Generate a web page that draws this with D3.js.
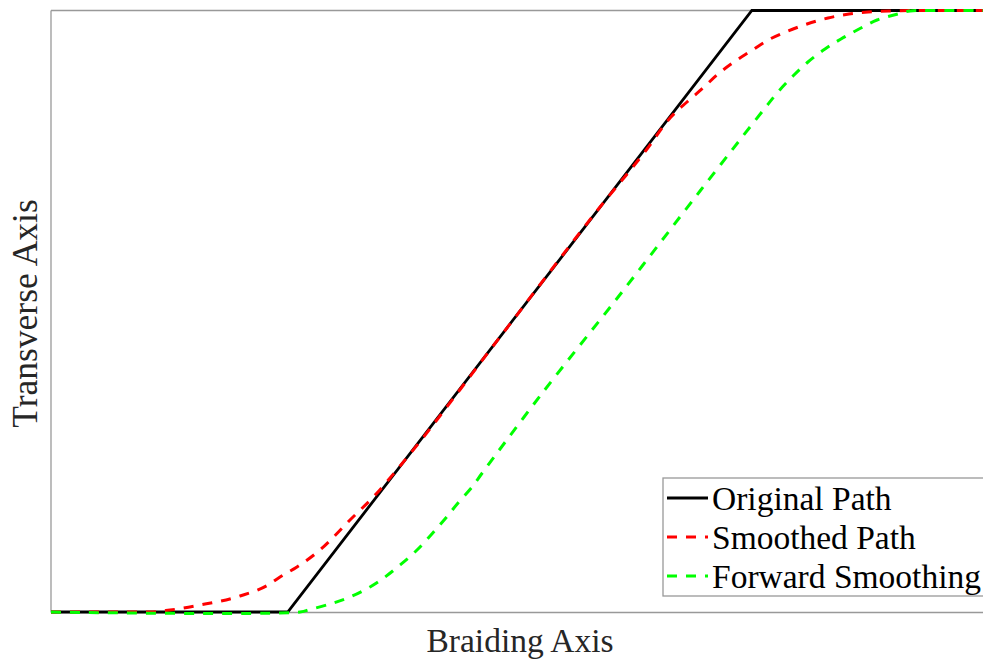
<!DOCTYPE html>
<html>
<head>
<meta charset="utf-8">
<script src="https://cdn.jsdelivr.net/npm/d3@7"></script>
<style>
  html, body { margin: 0; padding: 0; background: #fff; }
  svg { display: block; }
  text { font-family: "Liberation Serif", "Times New Roman", serif; }
</style>
</head>
<body>
<svg id="chart" width="983" height="661"></svg>
<script>
// ---- Data (x: braiding axis 0..100, y: transverse axis 0..1) ----
const seriesNames = ["Original Path", "Smoothed Path", "Forward Smoothing"];

const xOriginal = [0, 25.4, 75.2, 100];
const yOriginal = [0, 0, 1, 1];

const xSmoothed = [0, 10.62, 12.77, 15.99, 20.28, 23.28, 24.57, 26.39, 28.86, 32.08, 34.98, 37.45,
  48.18, 58.91, 63.95, 66.42, 68.24, 69.96, 71.46, 73.28, 75.11, 77.15, 79.08, 81.12, 83.37,
  85.62, 87.66, 90.02, 92.17, 100];
const ySmoothed = [0, 0, 0.0033, 0.0116, 0.0266, 0.0449, 0.0582, 0.0748, 0.1031, 0.1530, 0.1978, 0.2427,
  0.4572, 0.6733, 0.7697, 0.8213, 0.8479, 0.8712, 0.8928, 0.9144, 0.9327, 0.9526, 0.9659, 0.9776, 0.9875,
  0.9942, 0.9975, 0.9992, 1, 1];

const xForward = [0, 26.72, 27.79, 29.94, 32.08, 34.23, 35.84, 37.45, 39.16, 40.77, 42.27, 43.67, 45.17,
  46.35, 52.47, 61.27, 69.64, 76.61, 78.00, 79.61, 81.22, 83.05, 84.76, 86.70, 88.63, 90.88, 92.17, 94.31, 100];
const yForward = [0, 0, 0.0042, 0.0133, 0.0249, 0.0416, 0.0582, 0.0781, 0.1014, 0.1280, 0.1546, 0.1812, 0.2078,
  0.2328, 0.3591, 0.5320, 0.6999, 0.8379, 0.8645, 0.8911, 0.9144, 0.9360, 0.9526, 0.9692, 0.9842, 0.9942, 0.9992, 1, 1];

const xLabel = "Braiding Axis";
const yLabel = "Transverse Axis";

// ---- Layout ----
const svg = d3.select("#chart");
const pLeft = 51, pRight = 983, pTop = 10.5, pBottom = 612.5;

const x = d3.scaleLinear().domain([0, 100]).range([pLeft, pRight]);
const y = d3.scaleLinear().domain([0, 1]).range([pBottom - 0.5, pTop]);

const zip = (xs, ys) => xs.map((v, i) => [v, ys[i]]);

// axes box (left, top, bottom)
const axisColor = "#999999";
svg.append("line").attr("x1", pLeft).attr("x2", pLeft).attr("y1", pTop).attr("y2", pBottom)
  .attr("stroke", axisColor).attr("stroke-width", 1.3);
svg.append("line").attr("x1", pLeft).attr("x2", pRight + 5).attr("y1", pTop).attr("y2", pTop)
  .attr("stroke", axisColor).attr("stroke-width", 1.3);
svg.append("line").attr("x1", pLeft).attr("x2", pRight + 5).attr("y1", pBottom).attr("y2", pBottom)
  .attr("stroke", axisColor).attr("stroke-width", 1.3);

const straight = d3.line().x(d => x(d[0])).y(d => y(d[1]));
const smooth = d3.line().x(d => x(d[0])).y(d => y(d[1])).curve(d3.curveMonotoneX);
const smooth2 = d3.line().x(d => x(d[0])).y(d => y(d[1])).curve(d3.curveCatmullRom.alpha(0.5));

const styles = [
  { color: "#000000", dash: null },
  { color: "#ff0000", dash: "10,9" },
  { color: "#00ff00", dash: "10,9" }
];

svg.append("path").datum(zip(xOriginal, yOriginal))
  .attr("d", straight).attr("fill", "none")
  .attr("stroke", styles[0].color).attr("stroke-width", 2.8);

svg.append("path").datum(zip(xSmoothed, ySmoothed))
  .attr("d", smooth).attr("fill", "none")
  .attr("stroke", styles[1].color).attr("stroke-width", 3)
  .attr("stroke-dasharray", styles[1].dash);

svg.append("path").datum(zip(xForward, yForward))
  .attr("d", smooth2).attr("fill", "none")
  .attr("stroke", styles[2].color).attr("stroke-width", 3)
  .attr("stroke-dasharray", styles[2].dash);

// axis labels
svg.append("text").attr("x", (pLeft + pRight) / 2 + 3).attr("y", 652)
  .attr("text-anchor", "middle").attr("font-size", 33.5).attr("fill", "#262626")
  .text(xLabel);
svg.append("text")
  .attr("transform", `translate(37, ${(pTop + pBottom) / 2 + 2}) rotate(-90)`)
  .attr("text-anchor", "middle").attr("font-size", 35.5).attr("fill", "#262626")
  .text(yLabel);

// legend
const lg = svg.append("g");
lg.append("rect").attr("x", 663).attr("y", 478).attr("width", 330).attr("height", 118)
  .attr("fill", "#fff").attr("stroke", axisColor).attr("stroke-width", 1.3);
seriesNames.forEach((name, i) => {
  const yy = 498 + i * 39;
  lg.append("line").attr("x1", 667).attr("x2", 708).attr("y1", yy).attr("y2", yy)
    .attr("stroke", styles[i].color).attr("stroke-width", i === 0 ? 2.8 : 3)
    .attr("stroke-dasharray", styles[i].dash);
  lg.append("text").attr("x", 712).attr("y", yy + 12)
    .attr("font-size", 33.5).attr("fill", "#000").text(name);
});
</script>
</body>
</html>
